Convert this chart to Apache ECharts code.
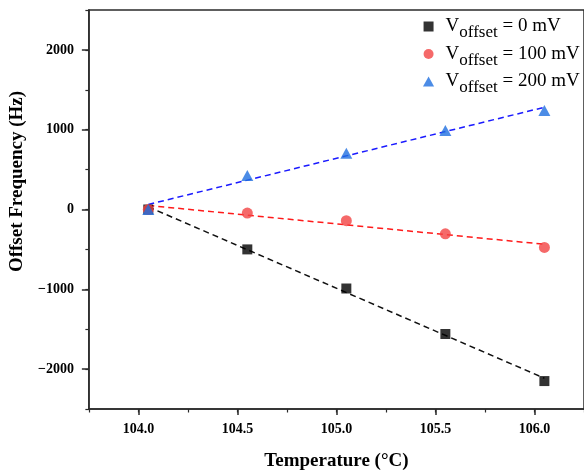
<!DOCTYPE html>
<html>
<head>
<meta charset="utf-8">
<script src="https://cdn.jsdelivr.net/npm/echarts@6/dist/echarts.min.js"></script>
<style>
  html, body { margin: 0; padding: 0; background: #fff; }
  #chart { width: 584px; height: 476px; }
</style>
</head>
<body>
<div id="chart"></div>
<script>
// Measured temperatures (°C)
var temperatures = [104.05, 104.55, 105.05, 105.55, 106.05];

// Offset frequency (Hz) for each offset voltage
var offset0mV = [0, -500, -990, -1560, -2150];
var offset100mV = [0, -45, -140, -305, -475];
var offset200mV = [0, 425, 705, 990, 1240];

// Linear fit end points (Hz) at the first and last temperature
var fitTemps = [104.05, 106.05];
var fit0mV = [33, -2114];
var fit100mV = [51, -436];
var fit200mV = [63, 1281];

// Tick values
var xMajorTicks = [104.0, 104.5, 105.0, 105.5, 106.0];
var yMajorTicks = [-2000, -1000, 0, 1000, 2000];

var seriesNames = ['Voffset = 0 mV', 'Voffset = 100 mV', 'Voffset = 200 mV'];

// Path symbols keep their aspect ratio inside the legend box
var squareSymbol = 'path://M0,0L10,0L10,10L0,10Z';
var triangleSymbol = 'path://M5,0L10,9L0,9Z';

function pairs(xs, ys) {
  return xs.map(function (x, i) { return [x, ys[i]]; });
}

var serif = 'Liberation Serif';
var axisColor = '#2a2a2a';

var chart = echarts.init(document.getElementById('chart'), null, { renderer: 'canvas' });

chart.setOption({
  animation: false,
  backgroundColor: '#fff',
  grid: {
    left: 85, top: 10, width: 500, height: 402,
    show: true, borderColor: axisColor, borderWidth: 1.5, backgroundColor: 'transparent'
  },
  legend: {
    orient: 'vertical',
    left: 418,
    top: 12,
    itemWidth: 24,
    itemHeight: 10,
    itemGap: 3,
    symbolKeepAspect: true,
    data: seriesNames,
    formatter: function (name) {
      return name.replace('offset', '{sub|offset}');
    },
    textStyle: {
      fontFamily: serif,
      fontSize: 19,
      color: '#000',
      rich: {
        sub: { fontFamily: serif, fontSize: 17, color: '#000', padding: [13, 0, 0, 0] }
      }
    }
  },
  xAxis: [
    {
      type: 'value', min: 103.75, max: 106.25, position: 'bottom',
      name: 'Temperature (°C)', nameLocation: 'middle', nameGap: 43,
      nameTextStyle: { fontFamily: serif, fontWeight: 'bold', fontSize: 19, color: '#000' },
      axisLine: { show: true, onZero: false, lineStyle: { color: axisColor, width: 1.5 } },
      axisTick: { show: true, customValues: xMajorTicks, length: 6, lineStyle: { color: axisColor, width: 1.5 } },
      axisLabel: {
        customValues: xMajorTicks, margin: 13,
        fontFamily: serif, fontWeight: 'bold', fontSize: 14, color: '#000',
        formatter: function (v) { return v.toFixed(1); }
      },
      splitLine: { show: false }
    },
    {
      type: 'value', min: 103.75, max: 106.25, interval: 0.25, position: 'bottom', gridIndex: 0,
      axisLine: { show: false, onZero: false },
      axisTick: { show: true, length: 3.5, lineStyle: { color: axisColor, width: 1.2 } },
      axisLabel: { show: false },
      splitLine: { show: false }
    }
  ],
  yAxis: [
    {
      type: 'value', min: -2500, max: 2500, position: 'left',
      name: 'Offset Frequency (Hz)', nameLocation: 'middle', nameGap: 47,
      nameTextStyle: { fontFamily: serif, fontWeight: 'bold', fontSize: 19, color: '#000', padding: [0, 0, 0, 56] },
      axisLine: { show: true, onZero: false, lineStyle: { color: axisColor, width: 1.5 } },
      axisTick: { show: true, customValues: yMajorTicks, length: 7, lineStyle: { color: axisColor, width: 1.5 } },
      axisLabel: {
        customValues: yMajorTicks, margin: 15,
        fontFamily: serif, fontWeight: 'bold', fontSize: 14, color: '#000',
        formatter: function (v) { return v < 0 ? '\u2212' + Math.abs(v) : String(v); }
      },
      splitLine: { show: false }
    },
    {
      type: 'value', min: -2500, max: 2500, interval: 500, position: 'left', gridIndex: 0,
      axisLine: { show: false, onZero: false },
      axisTick: { show: true, length: 3.5, lineStyle: { color: axisColor, width: 1.2 } },
      axisLabel: { show: false },
      splitLine: { show: false }
    }
  ],
  series: [
    {
      type: 'line', data: pairs(fitTemps, fit0mV), symbol: 'none', silent: true,
      lineStyle: { color: '#111', width: 1.5, type: [6, 4] }, z: 2
    },
    {
      type: 'line', data: pairs(fitTemps, fit100mV), symbol: 'none', silent: true,
      lineStyle: { color: '#ff1a1a', width: 1.5, type: [6, 4] }, z: 2
    },
    {
      type: 'line', data: pairs(fitTemps, fit200mV), symbol: 'none', silent: true,
      lineStyle: { color: '#1a1aff', width: 1.5, type: [6, 4] }, z: 2
    },
    {
      name: seriesNames[0], type: 'scatter', data: pairs(temperatures, offset0mV),
      symbol: squareSymbol, symbolSize: 10, itemStyle: { color: '#000' }, z: 3
    },
    {
      name: seriesNames[1], type: 'scatter', data: pairs(temperatures, offset100mV),
      symbol: 'circle', symbolSize: 11, itemStyle: { color: '#f24444' }, z: 3
    },
    {
      name: seriesNames[2], type: 'scatter', data: pairs(temperatures, offset200mV),
      symbol: triangleSymbol, symbolSize: [12, 11], itemStyle: { color: '#1f6fe0' }, z: 3
    }
  ]
});
</script>
</body>
</html>
